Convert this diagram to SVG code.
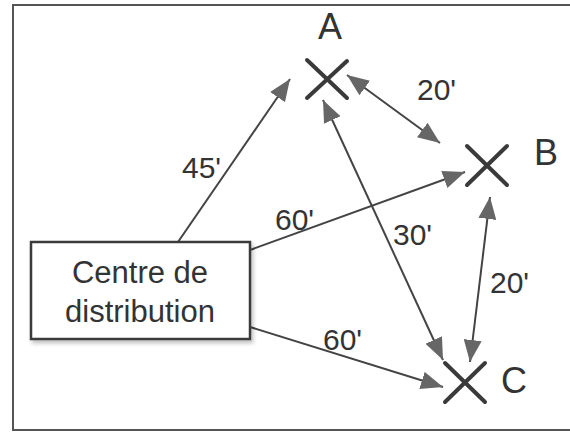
<svg xmlns="http://www.w3.org/2000/svg" width="570" height="432" viewBox="0 0 570 432">
<style>
.frame{fill:#fff;stroke:#555;stroke-width:2}
.box{fill:#fff;stroke:#3a3a3a;stroke-width:2.5}
.cross{stroke:#3a3a3a;stroke-width:4;stroke-linecap:round}
.conn{stroke:#444;stroke-width:2;fill:none}
.lbl{font-family:"Liberation Sans",Arial,sans-serif;fill:#333}
.node{font-size:36px}
.num{font-size:30px}
.boxt{font-size:31px;text-anchor:middle}
</style>
<defs>
<marker id="ah" markerUnits="userSpaceOnUse" markerWidth="24" markerHeight="18" refX="22" refY="9" orient="auto-start-reverse">
<path d="M0,0 L22,9 L0,18 Z" fill="#666"/>
</marker>
<filter id="sh" x="-10%" y="-10%" width="130%" height="130%">
<feGaussianBlur in="SourceAlpha" stdDeviation="2"/>
<feOffset dx="2" dy="3"/>
<feComponentTransfer><feFuncA type="linear" slope="0.25"/></feComponentTransfer>
<feMerge><feMergeNode/><feMergeNode in="SourceGraphic"/></feMerge>
</filter>
</defs>
<rect class="frame" x="13" y="5" width="565" height="425"/>
<g id="connectors">
<line class="conn" x1="178" y1="242" x2="290" y2="79" marker-end="url(#ah)"/>
<line class="conn" x1="250" y1="250" x2="465" y2="172" marker-end="url(#ah)"/>
<line class="conn" x1="323" y1="100" x2="443" y2="360" marker-start="url(#ah)" marker-end="url(#ah)"/>
<line class="conn" x1="347" y1="75" x2="440" y2="143" marker-start="url(#ah)" marker-end="url(#ah)"/>
<line class="conn" x1="490" y1="197" x2="470" y2="362" marker-start="url(#ah)" marker-end="url(#ah)"/>
<line class="conn" x1="250" y1="327" x2="443" y2="387" marker-end="url(#ah)"/>
<text class="lbl num" x="182" y="178">45'</text>
<text class="lbl num" x="275" y="230">60'</text>
<text class="lbl num" x="393" y="245">30'</text>
<text class="lbl num" x="417" y="100">20'</text>
<text class="lbl num" x="490" y="293">20'</text>
<text class="lbl num" x="323" y="350">60'</text>
</g>
<g id="centre">
<rect class="box" x="31" y="242" width="219" height="97" filter="url(#sh)"/>
<text class="lbl boxt" x="140" y="283">Centre de</text>
<text class="lbl boxt" x="140" y="322">distribution</text>
</g>
<g id="A">
<line class="cross" x1="307" y1="60" x2="347" y2="98"/>
<line class="cross" x1="347" y1="61" x2="307" y2="98"/>
<text class="lbl node" x="318" y="39">A</text>
</g>
<g id="B">
<line class="cross" x1="467" y1="146" x2="507" y2="185"/>
<line class="cross" x1="507" y1="146" x2="467" y2="185"/>
<text class="lbl node" x="534" y="165">B</text>
</g>
<g id="C">
<line class="cross" x1="445" y1="363" x2="485" y2="402"/>
<line class="cross" x1="485" y1="363" x2="445" y2="402"/>
<text class="lbl node" x="501" y="393">C</text>
</g>
</svg>
